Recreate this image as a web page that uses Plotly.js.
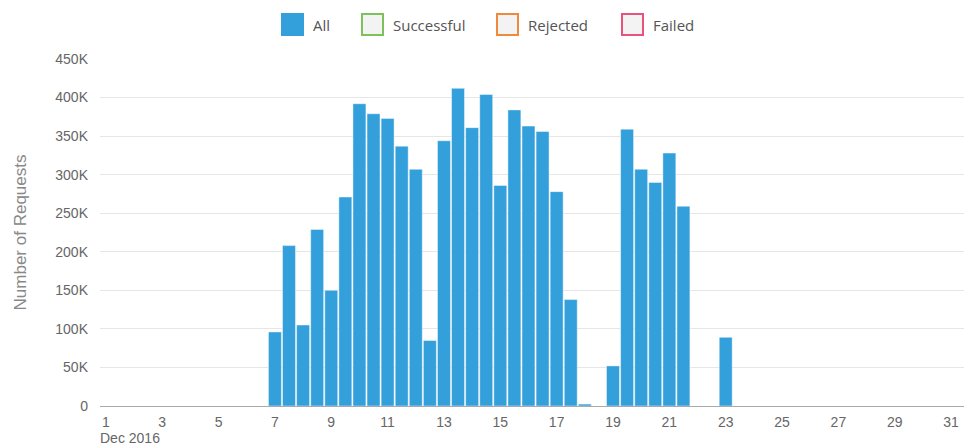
<!DOCTYPE html>
<html>
<head>
<meta charset="utf-8">
<script src="https://cdn.plot.ly/plotly-3.0.1.min.js"></script>
<style>html,body{margin:0;padding:0;background:#fff;}#chart{width:964px;height:445px;}</style>
</head>
<body>
<div id="chart"></div>
<script>
// Half-day bins (bar centres), December 2016
var binTimes = [
  '2016-12-07 00:00','2016-12-07 12:00','2016-12-08 00:00','2016-12-08 12:00',
  '2016-12-09 00:00','2016-12-09 12:00','2016-12-10 00:00','2016-12-10 12:00',
  '2016-12-11 00:00','2016-12-11 12:00','2016-12-12 00:00','2016-12-12 12:00',
  '2016-12-13 00:00','2016-12-13 12:00','2016-12-14 00:00','2016-12-14 12:00',
  '2016-12-15 00:00','2016-12-15 12:00','2016-12-16 00:00','2016-12-16 12:00',
  '2016-12-17 00:00','2016-12-17 12:00','2016-12-18 00:00','2016-12-18 12:00',
  '2016-12-19 00:00','2016-12-19 12:00','2016-12-20 00:00','2016-12-20 12:00',
  '2016-12-21 00:00','2016-12-21 12:00','2016-12-22 00:00','2016-12-22 12:00',
  '2016-12-23 00:00'
];
var allRequests = [
  96000, 208000, 105000, 229000,
  150000, 271000, 392000, 379000,
  373000, 337000, 307000, 85000,
  344000, 412000, 361000, 404000,
  286000, 384000, 363000, 356000,
  278000, 138000, 2500, 0,
  52000, 359000, 307000, 290000,
  328000, 259000, 0, 0,
  89000
];
var legendNames = ['All', 'Successful', 'Rejected', 'Failed'];
var legendColors = ['#339fdb', '#7dc15a', '#f0893a', '#e8537e'];
var yTickVals = [0, 50000, 100000, 150000, 200000, 250000, 300000, 350000, 400000, 450000];
var yTickText = ['0', '50K', '100K', '150K', '200K', '250K', '300K', '350K', '400K', '450K'];

var traces = [{
  type: 'bar',
  name: legendNames[0],
  x: binTimes,
  y: allRequests,
  marker: {color: legendColors[0], line: {color: 'rgba(255,255,255,0.45)', width: 1}},
  showlegend: false,
  hoverinfo: 'x+y'
}];

// custom legend (square swatches + labels above the plot)
var legendX = [181, 261, 396, 521];
var shapes = [];
var annotations = [];
for (var i = 0; i < legendNames.length; i++) {
  shapes.push({
    type: 'rect', xref: 'paper', yref: 'paper',
    xsizemode: 'pixel', ysizemode: 'pixel',
    xanchor: 0, yanchor: 1,
    x0: legendX[i] + (i === 0 ? 0 : 1), x1: legendX[i] + 23 - (i === 0 ? 0 : 1),
    y0: 23 + (i === 0 ? 0 : 1), y1: 46 - (i === 0 ? 0 : 1),
    fillcolor: i === 0 ? legendColors[0] : '#f3f3f3',
    line: {color: legendColors[i], width: i === 0 ? 0 : 2}
  });
  annotations.push({
    xref: 'paper', yref: 'paper', x: 0, y: 1,
    xanchor: 'left', yanchor: 'middle',
    xshift: legendX[i] + 30, yshift: 34,
    text: legendNames[i], showarrow: false,
    font: {family: 'Open Sans, sans-serif', size: 15, color: '#555'}
  });
}
annotations.push({
  xref: 'paper', yref: 'paper', x: 0, y: 0,
  xanchor: 'left', yanchor: 'top', yshift: -22, xshift: -2,
  text: 'Dec 2016', showarrow: false,
  font: {family: 'Liberation Sans, Arial, sans-serif', size: 14, color: '#666'}
});

var layout = {
  width: 964, height: 445,
  margin: {l: 100, r: 0, t: 59, b: 39, pad: 0},
  paper_bgcolor: '#fff', plot_bgcolor: '#fff',
  bargap: 0.08,
  showlegend: false,
  font: {family: 'Liberation Sans, Arial, sans-serif', size: 14, color: '#666'},
  xaxis: {
    type: 'date',
    range: ['2016-11-30 19:00', '2016-12-31 11:00'],
    tick0: '2016-12-01', dtick: 2 * 86400000,
    tickformat: '%-d',
    showgrid: false, zeroline: false,
    showline: true, linecolor: '#aaaaaa', linewidth: 1,
    ticks: '', ticklabelstandoff: 3,
    tickfont: {family: 'Liberation Sans, Arial, sans-serif', size: 14, color: '#666'}
  },
  yaxis: {
    range: [0, 450000],
    tickvals: yTickVals, ticktext: yTickText,
    showgrid: true, gridcolor: '#e6e6e6', gridwidth: 1,
    zeroline: false, showline: false, ticks: '',
    ticklabelstandoff: 11,
    tickfont: {family: 'Liberation Sans, Arial, sans-serif', size: 14, color: '#666'},
    title: {text: 'Number of Requests', standoff: 24,
            font: {family: 'Liberation Sans, Arial, sans-serif', size: 17, color: '#888'}}
  },
  shapes: shapes,
  annotations: annotations
};

Plotly.newPlot('chart', traces, layout, {displayModeBar: false, staticPlot: true});
</script>
</body>
</html>
